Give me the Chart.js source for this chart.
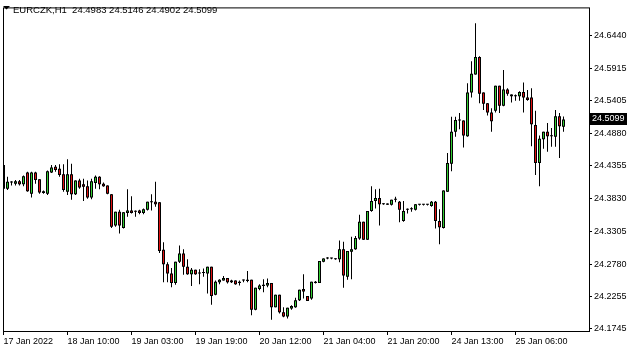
<!DOCTYPE html>
<html>
<head>
<meta charset="utf-8">
<title>EURCZK,H1</title>
<script src="https://cdn.jsdelivr.net/npm/chart.js@4.4.1/dist/chart.umd.min.js"></script>
<style>
  html, body { margin: 0; padding: 0; background: #fff; }
  canvas { display: block; }
</style>
</head>
<body>
<canvas id="chart" width="635" height="352"></canvas>
<script>
const symbol = 'EURCZK,H1';

// H1 candles, oldest first
const openPrices = [
    24.437, 24.399, 24.409, 24.407, 24.411, 24.406, 24.425, 24.391, 24.425, 24.414,
    24.392, 24.391, 24.425, 24.434, 24.431, 24.422, 24.394, 24.422, 24.390, 24.412,
    24.406, 24.403, 24.385, 24.408, 24.418, 24.407, 24.404, 24.390, 24.340, 24.362,
    24.336, 24.360, 24.364, 24.362, 24.364, 24.360, 24.365, 24.377, 24.378, 24.377,
    24.301, 24.278, 24.263, 24.248, 24.282, 24.295, 24.274, 24.262, 24.269, 24.263,
    24.264, 24.263, 24.274, 24.229, 24.249, 24.252, 24.256, 24.252, 24.252, 24.250,
    24.252, 24.251, 24.253, 24.205, 24.238, 24.243, 24.244, 24.248, 24.209, 24.229,
    24.201, 24.194, 24.207, 24.209, 24.220, 24.238, 24.227, 24.223, 24.248, 24.248,
    24.282, 24.287, 24.287, 24.286, 24.286, 24.302, 24.258, 24.298, 24.302, 24.319,
    24.346, 24.317, 24.363, 24.379, 24.384, 24.374, 24.375, 24.373, 24.381, 24.378,
    24.347, 24.365, 24.366, 24.365, 24.373, 24.373, 24.373, 24.371, 24.378, 24.347,
    24.336, 24.394, 24.439, 24.490, 24.508, 24.508, 24.483, 24.553, 24.582, 24.610,
    24.553, 24.536, 24.521, 24.524, 24.564, 24.532, 24.558, 24.550, 24.547, 24.547,
    24.554, 24.545, 24.545, 24.501, 24.440, 24.478, 24.490, 24.483, 24.482, 24.515,
    24.4983
];
const highPrices = [
    24.449, 24.418, 24.411, 24.413, 24.413, 24.420, 24.426, 24.426, 24.426, 24.414,
    24.396, 24.428, 24.437, 24.437, 24.438, 24.438, 24.446, 24.439, 24.412, 24.415,
    24.415, 24.412, 24.415, 24.420, 24.419, 24.409, 24.404, 24.390, 24.362, 24.365,
    24.361, 24.398, 24.387, 24.364, 24.365, 24.367, 24.378, 24.390, 24.410, 24.377,
    24.313, 24.281, 24.272, 24.282, 24.308, 24.302, 24.286, 24.272, 24.269, 24.270,
    24.271, 24.274, 24.274, 24.252, 24.254, 24.259, 24.256, 24.253, 24.252, 24.252,
    24.253, 24.267, 24.253, 24.240, 24.246, 24.254, 24.255, 24.248, 24.229, 24.229,
    24.209, 24.208, 24.212, 24.224, 24.237, 24.262, 24.227, 24.250, 24.251, 24.283,
    24.287, 24.289, 24.288, 24.287, 24.316, 24.314, 24.299, 24.322, 24.323, 24.357,
    24.346, 24.363, 24.403, 24.398, 24.399, 24.375, 24.375, 24.381, 24.386, 24.379,
    24.379, 24.367, 24.369, 24.374, 24.374, 24.374, 24.374, 24.379, 24.379, 24.366,
    24.396, 24.456, 24.514, 24.514, 24.520, 24.508, 24.568, 24.603, 24.664, 24.611,
    24.553, 24.536, 24.528, 24.564, 24.564, 24.589, 24.560, 24.550, 24.550, 24.555,
    24.569, 24.557, 24.560, 24.524, 24.484, 24.490, 24.504, 24.496, 24.525, 24.520,
    24.5146
];
const lowPrices = [
    24.398, 24.397, 24.404, 24.404, 24.404, 24.403, 24.394, 24.385, 24.407, 24.391,
    24.391, 24.389, 24.424, 24.426, 24.418, 24.394, 24.389, 24.381, 24.389, 24.399,
    24.379, 24.383, 24.382, 24.399, 24.398, 24.402, 24.390, 24.336, 24.338, 24.327,
    24.335, 24.354, 24.359, 24.354, 24.358, 24.358, 24.364, 24.364, 24.370, 24.296,
    24.249, 24.249, 24.241, 24.245, 24.280, 24.261, 24.261, 24.243, 24.261, 24.246,
    24.258, 24.231, 24.213, 24.228, 24.246, 24.252, 24.247, 24.248, 24.245, 24.244,
    24.249, 24.249, 24.196, 24.204, 24.236, 24.233, 24.241, 24.189, 24.209, 24.199,
    24.193, 24.191, 24.205, 24.208, 24.219, 24.223, 24.219, 24.221, 24.247, 24.248,
    24.281, 24.286, 24.286, 24.285, 24.281, 24.240, 24.253, 24.254, 24.301, 24.317,
    24.317, 24.317, 24.362, 24.367, 24.340, 24.373, 24.373, 24.372, 24.377, 24.345,
    24.346, 24.359, 24.362, 24.364, 24.372, 24.372, 24.372, 24.370, 24.335, 24.310,
    24.335, 24.394, 24.427, 24.482, 24.494, 24.465, 24.482, 24.545, 24.582, 24.536,
    24.525, 24.516, 24.490, 24.521, 24.520, 24.531, 24.548, 24.537, 24.540, 24.540,
    24.521, 24.540, 24.467, 24.421, 24.403, 24.463, 24.458, 24.466, 24.466, 24.448,
    24.4902
];
const closePrices = [
    24.399, 24.410, 24.410, 24.411, 24.406, 24.419, 24.395, 24.425, 24.413, 24.393,
    24.395, 24.427, 24.433, 24.429, 24.421, 24.397, 24.422, 24.390, 24.412, 24.401,
    24.402, 24.385, 24.411, 24.418, 24.406, 24.403, 24.391, 24.338, 24.362, 24.340,
    24.361, 24.364, 24.360, 24.362, 24.360, 24.366, 24.378, 24.377, 24.374, 24.299,
    24.278, 24.263, 24.248, 24.282, 24.295, 24.274, 24.262, 24.269, 24.262, 24.263,
    24.264, 24.274, 24.227, 24.250, 24.253, 24.256, 24.249, 24.249, 24.246, 24.248,
    24.252, 24.253, 24.205, 24.240, 24.244, 24.245, 24.248, 24.209, 24.229, 24.201,
    24.194, 24.208, 24.211, 24.220, 24.237, 24.234, 24.219, 24.250, 24.250, 24.283,
    24.287, 24.287, 24.287, 24.286, 24.302, 24.260, 24.299, 24.302, 24.320, 24.346,
    24.317, 24.363, 24.379, 24.384, 24.374, 24.374, 24.373, 24.381, 24.381, 24.365,
    24.363, 24.365, 24.366, 24.374, 24.373, 24.373, 24.373, 24.378, 24.347, 24.337,
    24.396, 24.440, 24.490, 24.509, 24.508, 24.484, 24.553, 24.583, 24.610, 24.551,
    24.535, 24.521, 24.507, 24.564, 24.532, 24.558, 24.551, 24.547, 24.547, 24.554,
    24.545, 24.541, 24.502, 24.440, 24.479, 24.490, 24.483, 24.483, 24.515, 24.499,
    24.5099
];

const timeLabels = ['17 Jan 2022', '18 Jan 10:00', '19 Jan 03:00', '19 Jan 19:00', '20 Jan 12:00',
    '21 Jan 04:00', '21 Jan 20:00', '24 Jan 13:00', '25 Jan 06:00'];
const timeTickBars = [0, 16, 32, 48, 64, 80, 96, 112, 128];
const priceTicks = [24.1745, 24.2255, 24.2780, 24.3305, 24.3830, 24.4355, 24.4880, 24.5405, 24.5915, 24.6440];

const BULL = '#32CD32';
const BEAR = '#E01010';
const FONT = '"Liberation Sans", Arial, sans-serif';

Chart.defaults.font.family = FONT;
Chart.defaults.font.size = 9;
Chart.defaults.color = '#000';

const bars = openPrices.map((_, i) => i);
const bodies = bars.map(i => ({ x: i, y: [openPrices[i], closePrices[i]] }));
const wicks = bars.map(i => ({ x: i, y: [lowPrices[i], highPrices[i]] }));
const last = bars.length - 1;
const candleColor = c => closePrices[c.dataIndex] >= openPrices[c.dataIndex] ? BULL : BEAR;

// frame, header line and last price marker
const overlay = {
    id: 'overlay',
    afterDraw(chart) {
        const { ctx, chartArea: a, scales } = chart;
        ctx.save();
        ctx.strokeStyle = '#000';
        ctx.lineWidth = 1;
        ctx.strokeRect(a.left + 0.5, a.top + 0.5, a.right - a.left, a.bottom - a.top);

        // header
        ctx.fillStyle = '#000';
        ctx.beginPath();
        ctx.moveTo(3, 6);
        ctx.lineTo(10, 6);
        ctx.lineTo(6.5, 9.5);
        ctx.closePath();
        ctx.fill();
        ctx.font = '9.5px ' + FONT;
        ctx.textBaseline = 'middle';
        ctx.textAlign = 'left';
        const ohlc = [openPrices[last], highPrices[last], lowPrices[last], closePrices[last]]
            .map(v => v.toFixed(4)).join(' ');
        ctx.fillText(symbol + '  ' + ohlc, 13, 10);

        // last price label
        ctx.font = '9px ' + FONT;
        const y = Math.round(scales.y.getPixelForValue(closePrices[last]));
        ctx.fillRect(a.right + 1, y - 6, 37, 12);
        ctx.fillStyle = '#fff';
        ctx.fillText(closePrices[last].toFixed(4), a.right + 3, y);
        ctx.restore();
    }
};

new Chart(document.getElementById('chart'), {
    type: 'bar',
    data: {
        datasets: [{
            // coloured core of the body, black caps top and bottom
            label: 'fill',
            data: bodies,
            backgroundColor: candleColor,
            borderColor: '#000',
            borderWidth: { top: 1, bottom: 1, left: 0, right: 0 },
            borderSkipped: false,
            barThickness: 1,
            minBarLength: 1,
            inflateAmount: 0,
            grouped: false,
            order: 0
        }, {
            label: 'body',
            data: bodies,
            backgroundColor: '#000',
            borderWidth: 0,
            barThickness: 3,
            minBarLength: 1,
            inflateAmount: 0,
            grouped: false,
            order: 1
        }, {
            label: 'wick',
            data: wicks,
            backgroundColor: '#000',
            borderWidth: 0,
            barThickness: 1,
            inflateAmount: 0,
            grouped: false,
            order: 2
        }]
    },
    options: {
        responsive: false,
        animation: false,
        layout: {
            padding: { left: 3, top: 3, right: 0, bottom: 0 }
        },
        plugins: {
            legend: { display: false },
            tooltip: { enabled: false }
        },
        scales: {
            x: {
                type: 'linear',
                min: -0.125,
                max: 146.375,
                offset: false,
                afterBuildTicks(scale) {
                    scale.ticks = timeTickBars.map(v => ({ value: v }));
                },
                afterFit(scale) {
                    scale.height = 21;
                },
                ticks: {
                    autoSkip: false,
                    maxRotation: 0,
                    align: 'start',
                    padding: 1,
                    callback: (v, i) => timeLabels[i]
                },
                grid: {
                    offset: false,
                    drawOnChartArea: false,
                    tickLength: 4,
                    color: '#000'
                },
                border: { display: false }
            },
            y: {
                position: 'right',
                min: 24.1709,
                max: 24.6894,
                afterBuildTicks(scale) {
                    scale.ticks = priceTicks.map(v => ({ value: v }));
                },
                afterFit(scale) {
                    scale.width = 46;
                },
                ticks: {
                    padding: 2,
                    callback: v => v.toFixed(4)
                },
                grid: {
                    drawOnChartArea: false,
                    tickLength: 3,
                    color: '#000'
                },
                border: { display: false }
            }
        }
    },
    plugins: [overlay]
});
</script>
</body>
</html>
